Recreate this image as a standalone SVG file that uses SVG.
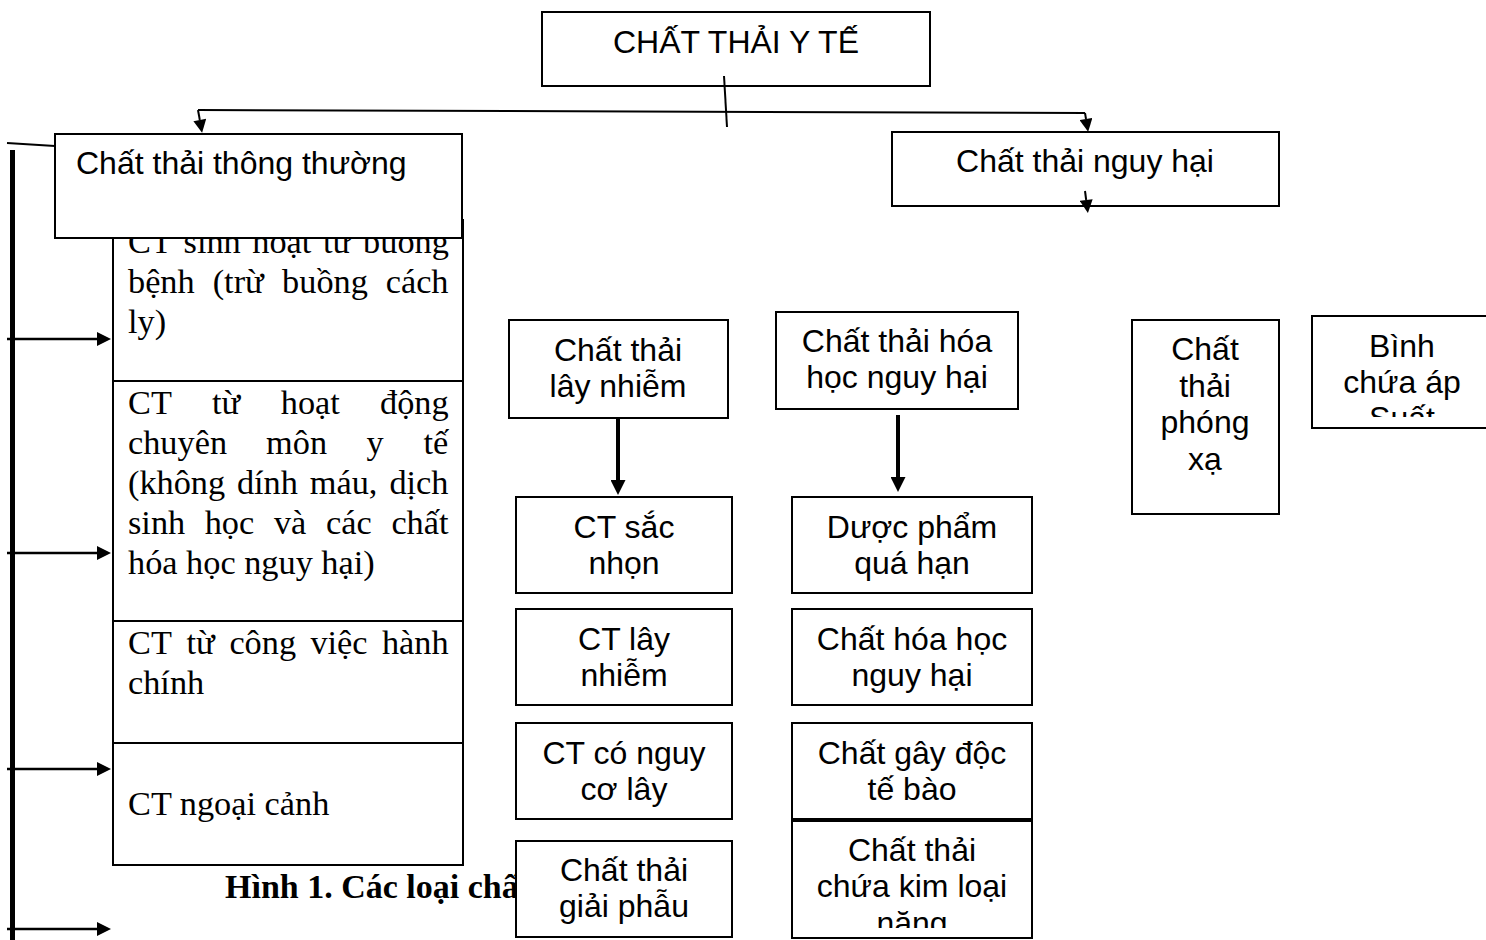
<svg xmlns="http://www.w3.org/2000/svg" width="1486" height="940" viewBox="0 0 1486 940">
<style>
.box{fill:#fff;stroke:#000;stroke-width:2}
.sans{font-family:"Liberation Sans",Arial,sans-serif;font-size:32px;fill:#000}
.serif{font-family:"Liberation Serif","Times New Roman",serif;font-size:34.3px;fill:#000}
.cap{font-family:"Liberation Serif","Times New Roman",serif;font-size:34px;font-weight:bold;fill:#000}
.c{text-anchor:middle}
.ln{stroke:#000;stroke-width:2;fill:none}
.arr{stroke:#000;stroke-width:2.5;fill:none}
.thick{stroke:#000;stroke-width:4;fill:none}
</style>
<defs>
<marker id="ah" viewBox="0 0 10 10" refX="0" refY="5" markerWidth="14" markerHeight="13" orient="auto" markerUnits="userSpaceOnUse"><path d="M0,0L10,5L0,10z" fill="#000"/></marker>
<marker id="ahl" viewBox="0 0 10 10" refX="0" refY="5" markerWidth="16" markerHeight="14" orient="auto" markerUnits="userSpaceOnUse"><path d="M0,0L10,5L0,10z" fill="#000"/></marker>
<marker id="ahb" viewBox="0 0 10 10" refX="0" refY="5" markerWidth="16" markerHeight="15" orient="auto" markerUnits="userSpaceOnUse"><path d="M0,0L10,5L0,10z" fill="#000"/></marker>
<clipPath id="clipBinh"><rect x="1312" y="316" width="174" height="101"/></clipPath>
<clipPath id="clipNang"><rect x="792" y="820" width="240" height="108"/></clipPath>
</defs>
<rect width="1486" height="940" fill="#fff"/>

<g id="ct-thong-thuong-list">
<rect class="box" x="113" y="220" width="350" height="645"/>
<line class="ln" x1="113" y1="381" x2="463" y2="381"/>
<line class="ln" x1="113" y1="621" x2="463" y2="621"/>
<line class="ln" x1="113" y1="743" x2="463" y2="743"/>
<text class="serif" y="253"><tspan x="128">CT</tspan><tspan x="183.6">sinh</tspan><tspan x="252.3">hoạt</tspan><tspan x="322.9">từ</tspan><tspan x="363.1">buồng</tspan></text>
<text class="serif" y="293"><tspan x="128">bệnh</tspan><tspan x="212.7">(trừ</tspan><tspan x="282.1">buồng</tspan><tspan x="385.7">cách</tspan></text>
<text class="serif" x="128" y="333">ly)</text>
<text class="serif" y="414"><tspan x="128">CT</tspan><tspan x="212.1">từ</tspan><tspan x="280.8">hoạt</tspan><tspan x="380">động</tspan></text>
<text class="serif" y="454"><tspan x="128">chuyên</tspan><tspan x="266.1">môn</tspan><tspan x="366.5">y</tspan><tspan x="423.4">tế</tspan></text>
<text class="serif" y="494"><tspan x="128">(không</tspan><tspan x="236.9">dính</tspan><tspan x="309.8">máu,</tspan><tspan x="389.4">dịch</tspan></text>
<text class="serif" y="534"><tspan x="128">sinh</tspan><tspan x="204.7">học</tspan><tspan x="273.9">và</tspan><tspan x="326">các</tspan><tspan x="391.4">chất</tspan></text>
<text class="serif" x="128" y="574">hóa học nguy hại)</text>
<text class="serif" y="654"><tspan x="128">CT</tspan><tspan x="186.4">từ</tspan><tspan x="229.4">công</tspan><tspan x="310.4">việc</tspan><tspan x="381.9">hành</tspan></text>
<text class="serif" x="128" y="694">chính</text>
<text class="serif" x="128" y="815">CT ngoại cảnh</text>
</g>

<g id="caption">
<text class="cap" x="225" y="898">Hình 1. Các loại chấ</text>
</g>

<g id="chat-thai-y-te">
<rect class="box" x="542" y="12" width="388" height="74"/>
<text class="sans c" x="736" y="53">CHẤT THẢI Y TẾ</text>
</g>

<g id="chat-thai-thong-thuong">
<rect class="box" x="55" y="134" width="407" height="104"/>
<text class="sans" x="76" y="174">Chất thải thông thường</text>
</g>

<g id="chat-thai-nguy-hai">
<rect class="box" x="892" y="132" width="387" height="74"/>
<text class="sans c" x="1085" y="172">Chất thải nguy hại</text>
</g>

<g id="chat-thai-lay-nhiem">
<rect class="box" x="509" y="320" width="219" height="98"/>
<text class="sans c" x="618" y="361">Chất thải</text>
<text class="sans c" x="618" y="397">lây nhiễm</text>
</g>

<g id="chat-thai-hoa-hoc">
<rect class="box" x="776" y="312" width="242" height="97"/>
<text class="sans c" x="897" y="352">Chất thải hóa</text>
<text class="sans c" x="897" y="388">học nguy hại</text>
</g>

<g id="chat-thai-phong-xa">
<rect class="box" x="1132" y="320" width="147" height="194"/>
<text class="sans c" x="1205" y="360">Chất</text>
<text class="sans c" x="1205" y="397">thải</text>
<text class="sans c" x="1205" y="433">phóng</text>
<text class="sans c" x="1205" y="470">xạ</text>
</g>

<g id="binh-chua-ap-suat">
<rect class="box" x="1312" y="316" width="190" height="112"/>
<g clip-path="url(#clipBinh)">
<text class="sans c" x="1402" y="357">Bình</text>
<text class="sans c" x="1402" y="393">chứa áp</text>
<text class="sans c" x="1402" y="429">Suất</text>
</g>
</g>

<g id="ct-sac-nhon">
<rect class="box" x="516" y="497" width="216" height="96"/>
<text class="sans c" x="624" y="538">CT sắc</text>
<text class="sans c" x="624" y="574">nhọn</text>
</g>

<g id="ct-lay-nhiem">
<rect class="box" x="516" y="609" width="216" height="96"/>
<text class="sans c" x="624" y="650">CT lây</text>
<text class="sans c" x="624" y="686">nhiễm</text>
</g>

<g id="ct-co-nguy-co-lay">
<rect class="box" x="516" y="723" width="216" height="96"/>
<text class="sans c" x="624" y="764">CT có nguy</text>
<text class="sans c" x="624" y="800">cơ lây</text>
</g>

<g id="chat-thai-giai-phau">
<rect class="box" x="516" y="841" width="216" height="96"/>
<text class="sans c" x="624" y="881">Chất thải</text>
<text class="sans c" x="624" y="917">giải phẫu</text>
</g>

<g id="duoc-pham-qua-han">
<rect class="box" x="792" y="497" width="240" height="96"/>
<text class="sans c" x="912" y="538">Dược phẩm</text>
<text class="sans c" x="912" y="574">quá hạn</text>
</g>

<g id="chat-hoa-hoc-nguy-hai">
<rect class="box" x="792" y="609" width="240" height="96"/>
<text class="sans c" x="912" y="650">Chất hóa học</text>
<text class="sans c" x="912" y="686">nguy hại</text>
</g>

<g id="chat-gay-doc-te-bao">
<rect class="box" x="792" y="723" width="240" height="96"/>
<text class="sans c" x="912" y="764">Chất gây độc</text>
<text class="sans c" x="912" y="800">tế bào</text>
</g>

<g id="chat-thai-kim-loai-nang">
<rect class="box" x="792" y="821" width="240" height="117"/>
<g clip-path="url(#clipNang)">
<text class="sans c" x="912" y="861">Chất thải</text>
<text class="sans c" x="912" y="897">chứa kim loại</text>
<text class="sans c" x="912" y="934">nặng</text>
</g>
</g>

<g id="connectors">
<path class="ln" d="M724,76 L727,127"/>
<path class="ln" d="M198,110 L1085,113"/>
<path class="ln" d="M198,110 L199.8,120" marker-end="url(#ah)"/>
<path class="ln" d="M1085,113 L1086,119" marker-end="url(#ah)"/>
<path class="ln" d="M1085,191 L1086.2,200" marker-end="url(#ah)"/>
<path class="ln" d="M7,143 L55,146"/>
<path d="M12.5,150 L12.5,940" stroke="#000" stroke-width="5" fill="none"/>
<path class="arr" d="M7,339 L97,339" marker-end="url(#ahl)"/>
<path class="arr" d="M7,553 L97,553" marker-end="url(#ahl)"/>
<path class="arr" d="M7,769 L97,769" marker-end="url(#ahl)"/>
<path class="arr" d="M7,929 L97,929" marker-end="url(#ahl)"/>
<path class="thick" d="M618,418 L618,480" marker-end="url(#ahb)"/>
<path class="thick" d="M898,415 L898,477" marker-end="url(#ahb)"/>
</g>
</svg>
